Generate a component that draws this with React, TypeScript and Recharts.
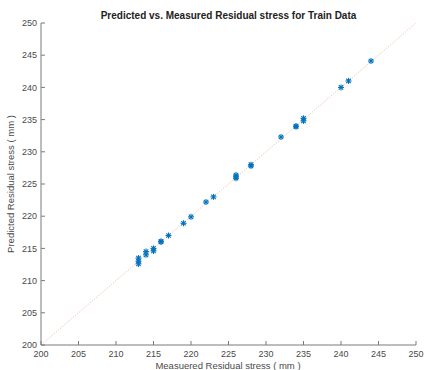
import { ScatterChart, Scatter, XAxis, YAxis, ReferenceLine } from 'recharts'

const measured = [
  213, 213, 213, 214, 214, 215, 215, 216, 216, 217, 219, 220, 222, 223,
  226, 226, 226, 228, 228, 232, 234, 234, 235, 235, 240, 241, 244,
]
const predicted = [
  212.6, 213.0, 213.5, 214.0, 214.5, 214.6, 215.0, 216.0, 216.1, 217.0, 218.9, 219.9, 222.2, 223.0,
  225.9, 226.1, 226.4, 227.8, 228.0, 232.3, 233.9, 234.0, 234.8, 235.2, 240.0, 241.0, 244.1,
]
const ticks = [200, 205, 210, 215, 220, 225, 230, 235, 240, 245, 250]

const points = measured.map((m, i) => ({ x: m, y: predicted[i] }))

const axisColor = '#7a7a7a'
const textColor = '#4a4a4a'
const font = '"Liberation Sans", Arial, sans-serif'

function Asterisk(props: any) {
  const { cx, cy } = props
  const r = 3
  const d = 2.2
  return (
    <g stroke="#0072BD" strokeWidth={1.1}>
      <line x1={cx - r} y1={cy} x2={cx + r} y2={cy} />
      <line x1={cx} y1={cy - r} x2={cx} y2={cy + r} />
      <line x1={cx - d} y1={cy - d} x2={cx + d} y2={cy + d} />
      <line x1={cx - d} y1={cy + d} x2={cx + d} y2={cy - d} />
    </g>
  )
}

export default function App() {
  const tickStyle = { fontSize: 9, fill: textColor, fontFamily: font }
  return (
    <div style={{ position: 'relative', width: 427, height: 370, background: '#fff', fontFamily: font }}>
      <style>{'body{margin:0}'}</style>
      <div style={{ position: 'absolute', top: 10, left: 41, width: 375, textAlign: 'center', fontSize: 10, fontWeight: 'bold', color: '#222' }}>
        Predicted vs. Measured Residual stress for Train Data
      </div>
      <div style={{ position: 'absolute', left: 228, top: 360, transform: 'translateX(-50%)', fontSize: 9.5, color: textColor, whiteSpace: 'nowrap' }}>
        Measuered Residual stress ( mm )
      </div>
      <div style={{ position: 'absolute', left: 10, top: 184, transform: 'translate(-50%, -50%) rotate(-90deg)', fontSize: 9.5, color: textColor, whiteSpace: 'nowrap' }}>
        Predicted Residual stress ( mm )
      </div>
      <ScatterChart width={427} height={370} margin={{ top: 23, right: 11, bottom: 0, left: 0 }}>
        <XAxis
          type="number"
          dataKey="x"
          domain={[200, 250]}
          ticks={ticks}
          height={25}
          tickSize={-4}
          tickMargin={10}
          stroke={axisColor}
          tick={tickStyle}
          interval={0}
        />
        <XAxis
          xAxisId="top"
          type="number"
          orientation="top"
          domain={[200, 250]}
          ticks={ticks}
          height={0}
          tickSize={-4}
          tick={false}
          stroke={axisColor}
        />
        <YAxis
          type="number"
          dataKey="y"
          domain={[200, 250]}
          ticks={ticks}
          width={41}
          tickSize={-4}
          tickMargin={8}
          stroke={axisColor}
          tick={tickStyle}
          interval={0}
        />
        <YAxis
          yAxisId="right"
          type="number"
          orientation="right"
          domain={[200, 250]}
          ticks={ticks}
          width={0}
          tickSize={-4}
          tick={false}
          stroke={axisColor}
        />
        <ReferenceLine
          segment={[{ x: 200, y: 200 }, { x: 250, y: 250 }]}
          stroke="#D95319"
          strokeOpacity={0.5}
          strokeDasharray="1 1.5"
          strokeWidth={0.8}
        />
        <Scatter data={points} shape={<Asterisk />} isAnimationActive={false} />
      </ScatterChart>
    </div>
  )
}
